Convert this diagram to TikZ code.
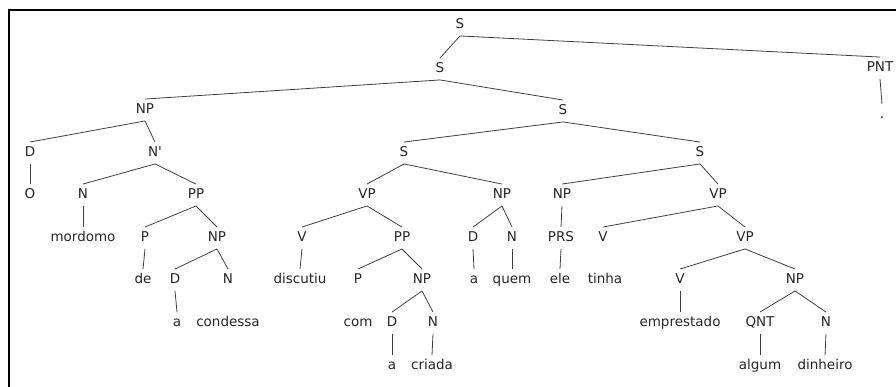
\documentclass[tikz,border=0pt]{standalone}
\usepackage{fontspec}
\setmainfont{DejaVu Sans}[Ligatures=TeXOff]
\begin{document}
\begin{tikzpicture}[x=1pt,y=-1pt,
  lab/.style={font=\fontsize{13.5pt}{16pt}\selectfont, text height=9.5pt, text depth=2pt, inner xsep=1pt, inner ysep=5pt, text=black!85},
  br/.style={draw=black!75, line width=0.8pt},
  frm/.style={draw=black, line width=2pt}]
\useasboundingbox (0,0) rectangle (896,387);
\coordinate (ftr) at (896,10);
\coordinate (ftl) at (8.5,10);
\coordinate (fbl) at (8.5,387);
\draw[frm] (ftr) -- (ftl) -- (fbl);
% nodes
\node[lab] (s0) at (460,25) {S};
\node[lab] (s1) at (440,69) {S};
\node[lab] (pnt) at (880,68) {PNT};
\node[lab] (dot) at (882,115) {.};
\node[lab] (np1) at (145,110) {NP};
\node[lab] (s2) at (563,111) {S};
\node[lab] (d1) at (30,153) {D};
\node[lab] (nb) at (155,153) {N'};
\node[lab] (o) at (30,195) {O};
\node[lab] (n1) at (83,195) {N};
\node[lab] (pp1) at (196,195) {PP};
\node[lab] (mordomo) at (83,238) {mordomo};
\node[lab] (p1) at (145,238) {P};
\node[lab] (np2) at (217,238) {NP};
\node[lab] (de) at (143,280) {de};
\node[lab] (d2) at (175,280) {D};
\node[lab] (n2) at (228,280) {N};
\node[lab] (a1) at (177,323) {a};
\node[lab] (condessa) at (228,323) {condessa};
\node[lab] (s3) at (404,153) {S};
\node[lab] (s4) at (700,153) {S};
\node[lab] (vp1) at (367,195) {VP};
\node[lab] (np3) at (502,195) {NP};
\node[lab] (np4) at (562,195) {NP};
\node[lab] (vp2) at (718,195) {VP};
\node[lab] (v1) at (302,238) {V};
\node[lab] (pp2) at (402,238) {PP};
\node[lab] (d3) at (473,238) {D};
\node[lab] (n3) at (512,238) {N};
\node[lab] (prs) at (561,238) {PRS};
\node[lab] (v2) at (603,238) {V};
\node[lab] (vp3) at (745,238) {VP};
\node[lab] (discutiu) at (300,280) {discutiu};
\node[lab] (p2) at (358,280) {P};
\node[lab] (np5) at (422,280) {NP};
\node[lab] (a2) at (474,280) {a};
\node[lab] (quem) at (512,280) {quem};
\node[lab] (ele) at (560,280) {ele};
\node[lab] (tinha) at (605,280) {tinha};
\node[lab] (v3) at (680,280) {V};
\node[lab] (np6) at (795,280) {NP};
\node[lab] (com) at (358,323) {com};
\node[lab] (d4) at (392,323) {D};
\node[lab] (n4) at (433,323) {N};
\node[lab] (emprestado) at (680,323) {emprestado};
\node[lab] (qnt) at (760,323) {QNT};
\node[lab] (n5) at (826,323) {N};
\node[lab] (a3) at (392,366) {a};
\node[lab] (criada) at (432,366) {criada};
\node[lab] (algum) at (760,366) {algum};
\node[lab] (dinheiro) at (825,366) {dinheiro};
% branches
\foreach \p/\c in {s0/s1, s0/pnt, pnt/dot, s1/np1, s1/s2, np1/d1, np1/nb, d1/o,
  nb/n1, nb/pp1, n1/mordomo, pp1/p1, pp1/np2, p1/de, np2/d2, np2/n2, d2/a1,
  s2/s3, s2/s4, s3/vp1, s3/np3, vp1/v1, vp1/pp2, v1/discutiu, pp2/p2, pp2/np5,
  np5/d4, np5/n4, d4/a3, n4/criada, np3/d3, np3/n3, d3/a2, n3/quem,
  s4/np4, s4/vp2, np4/prs, prs/ele, vp2/v2, vp2/vp3, vp3/v3, vp3/np6,
  v3/emprestado, np6/qnt, np6/n5, qnt/algum, n5/dinheiro}
  \draw[br] (\p.south) -- (\c.north);
\end{tikzpicture}
\end{document}
